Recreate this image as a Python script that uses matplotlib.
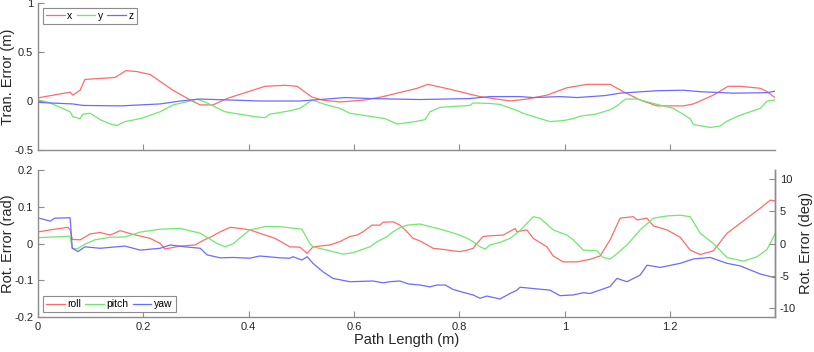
import numpy as np
import matplotlib
matplotlib.use("Agg")
import matplotlib.pyplot as plt

plt.rcParams['font.family'] = ['Liberation Sans', 'DejaVu Sans']

# translation error (m) vs path length (m)
x_s = [0.002, 0.061, 0.066, 0.080, 0.089, 0.146, 0.167, 0.188, 0.213, 0.256, 0.289, 0.308,
       0.332, 0.361, 0.402, 0.431, 0.469, 0.492, 0.520, 0.539, 0.573, 0.621, 0.655, 0.720,
       0.740, 0.782, 0.839, 0.896, 0.928, 0.966, 1.004, 1.042, 1.086, 1.111, 1.143, 1.175,
       1.225, 1.244, 1.282, 1.310, 1.333, 1.371, 1.384, 1.399]
x_err = [0.034, 0.09, 0.06, 0.11, 0.22, 0.24, 0.31, 0.30, 0.27, 0.11, 0.01, -0.04,
         -0.04, 0.03, 0.10, 0.15, 0.16, 0.15, 0.04, 0.01, -0.01, 0.01, 0.045, 0.13,
         0.17, 0.12, 0.045, 0.0, 0.02, 0.06, 0.135, 0.17, 0.17, 0.095, 0.01, -0.05,
         -0.05, -0.03, 0.06, 0.15, 0.15, 0.13, 0.095, 0.035]

y_s = [0.002, 0.023, 0.061, 0.066, 0.080, 0.085, 0.099, 0.118, 0.137, 0.150, 0.165, 0.194,
       0.232, 0.256, 0.289, 0.302, 0.321, 0.355, 0.412, 0.431, 0.440, 0.478, 0.497, 0.507,
       0.520, 0.545, 0.573, 0.592, 0.659, 0.682, 0.716, 0.735, 0.744, 0.763, 0.820, 0.826,
       0.858, 0.877, 0.906, 0.921, 0.953, 0.972, 0.997, 1.016, 1.029, 1.058, 1.086, 1.099,
       1.115, 1.137, 1.168, 1.206, 1.238, 1.244, 1.276, 1.295, 1.308, 1.333, 1.371, 1.384, 1.399]
y_err = [0.01, -0.02, -0.11, -0.16, -0.18, -0.135, -0.125, -0.19, -0.235, -0.25, -0.21, -0.18,
         -0.11, -0.04, 0.0, 0.02, -0.02, -0.11, -0.16, -0.17, -0.135, -0.10, -0.075, -0.04,
         0.01, -0.035, -0.075, -0.125, -0.18, -0.235, -0.21, -0.19, -0.11, -0.065, -0.045, -0.02,
         -0.025, -0.035, -0.09, -0.125, -0.18, -0.21, -0.2, -0.18, -0.155, -0.135, -0.09, -0.05,
         0.02, 0.02, -0.025, -0.075, -0.18, -0.24, -0.27, -0.255, -0.205, -0.145, -0.075, 0.0, 0.01]

z_s = [0.002, 0.066, 0.085, 0.156, 0.232, 0.270, 0.308, 0.365, 0.421, 0.497, 0.535, 0.583,
       0.630, 0.725, 0.820, 0.858, 0.877, 0.915, 0.940, 0.991, 1.023, 1.076, 1.105, 1.175,
       1.225, 1.257, 1.320, 1.384, 1.399]
z_err = [-0.015, -0.03, -0.045, -0.05, -0.03, 0.0, 0.02, 0.01, 0.0, 0.0, 0.015, 0.035,
         0.025, 0.015, 0.025, 0.045, 0.045, 0.045, 0.035, 0.045, 0.035, 0.055, 0.08, 0.105,
         0.11, 0.095, 0.08, 0.085, 0.1]

# rotation error (rad)
roll_s = [0.002, 0.032, 0.057, 0.061, 0.065, 0.080, 0.099, 0.118, 0.137, 0.156, 0.180, 0.213,
          0.232, 0.241, 0.270, 0.298, 0.317, 0.327, 0.346, 0.365, 0.384, 0.402, 0.450, 0.478,
          0.497, 0.511, 0.522, 0.554, 0.573, 0.592, 0.606, 0.617, 0.634, 0.649, 0.655, 0.674,
          0.687, 0.697, 0.712, 0.725, 0.739, 0.750, 0.769, 0.788, 0.801, 0.815, 0.826, 0.833,
          0.845, 0.858, 0.883, 0.906, 0.909, 0.928, 0.940, 0.966, 0.978, 0.997, 1.023, 1.048,
          1.067, 1.086, 1.105, 1.130, 1.137, 1.156, 1.168, 1.194, 1.219, 1.238, 1.257, 1.282,
          1.308, 1.333, 1.371, 1.390, 1.399]
roll = [0.032, 0.039, 0.044, 0.037, 0.011, 0.01, 0.026, 0.03, 0.023, 0.035, 0.025, 0.014,
        0.0, -0.015, -0.007, -0.004, 0.011, 0.017, 0.032, 0.044, 0.041, 0.037, 0.014, -0.009,
        -0.01, -0.027, -0.009, -0.004, 0.005, 0.019, 0.023, 0.032, 0.05, 0.05, 0.058, 0.059,
        0.05, 0.037, 0.014, 0.007, -0.004, -0.013, -0.016, -0.02, -0.022, -0.018, -0.013, 0.0,
        0.019, 0.021, 0.023, 0.041, 0.032, 0.037, 0.014, -0.009, -0.034, -0.05, -0.05, -0.043,
        -0.034, 0.01, 0.069, 0.073, 0.064, 0.069, 0.048, 0.037, 0.017, -0.018, -0.03, -0.02,
        0.028, 0.055, 0.096, 0.118, 0.116]

pitch_s = [0.002, 0.061, 0.065, 0.074, 0.089, 0.108, 0.137, 0.165, 0.194, 0.232, 0.270, 0.308,
           0.340, 0.355, 0.370, 0.402, 0.431, 0.459, 0.488, 0.501, 0.516, 0.522, 0.554, 0.579,
           0.598, 0.630, 0.644, 0.663, 0.674, 0.687, 0.701, 0.725, 0.744, 0.769, 0.796, 0.815,
           0.826, 0.839, 0.849, 0.858, 0.877, 0.896, 0.915, 0.940, 0.953, 0.978, 1.004, 1.016,
           1.035, 1.061, 1.073, 1.086, 1.092, 1.118, 1.143, 1.168, 1.194, 1.219, 1.238, 1.257,
           1.282, 1.308, 1.339, 1.365, 1.384, 1.399]
pitch = [0.016, 0.02, -0.013, -0.015, -0.002, 0.01, 0.017, 0.018, 0.031, 0.039, 0.041, 0.028,
         0.0, -0.009, -0.001, 0.037, 0.046, 0.046, 0.041, 0.039, 0.0, -0.009, -0.02, -0.029,
         -0.025, -0.009, 0.005, 0.019, 0.032, 0.043, 0.05, 0.053, 0.046, 0.037, 0.025, 0.014,
         0.005, -0.009, -0.015, -0.004, 0.003, 0.014, 0.035, 0.073, 0.069, 0.037, 0.023, 0.01,
         -0.018, -0.02, -0.038, -0.042, -0.036, -0.004, 0.037, 0.069, 0.075, 0.077, 0.073, 0.028,
         0.0, -0.038, -0.048, -0.036, -0.016, 0.026]

yaw_s = [0.002, 0.023, 0.032, 0.061, 0.065, 0.076, 0.089, 0.118, 0.165, 0.194, 0.232, 0.251,
         0.279, 0.308, 0.321, 0.346, 0.370, 0.402, 0.421, 0.459, 0.478, 0.484, 0.501, 0.511,
         0.522, 0.541, 0.560, 0.592, 0.636, 0.655, 0.668, 0.687, 0.703, 0.725, 0.744, 0.757,
         0.773, 0.788, 0.807, 0.826, 0.839, 0.852, 0.877, 0.896, 0.909, 0.915, 0.972, 0.991,
         1.016, 1.035, 1.048, 1.086, 1.099, 1.118, 1.143, 1.156, 1.181, 1.219, 1.244, 1.276,
         1.308, 1.333, 1.371, 1.399]
yaw = [0.069, 0.061, 0.069, 0.07, -0.013, -0.022, -0.009, -0.013, -0.007, -0.018, -0.013, -0.004,
       -0.009, -0.013, -0.031, -0.039, -0.038, -0.04, -0.034, -0.039, -0.04, -0.036, -0.045, -0.036,
       -0.054, -0.077, -0.095, -0.104, -0.102, -0.107, -0.104, -0.102, -0.11, -0.113, -0.118, -0.113,
       -0.113, -0.125, -0.133, -0.14, -0.149, -0.143, -0.151, -0.136, -0.127, -0.119, -0.127, -0.142,
       -0.14, -0.134, -0.136, -0.117, -0.095, -0.104, -0.086, -0.059, -0.065, -0.054, -0.042, -0.038,
       -0.054, -0.061, -0.083, -0.093]

red = '#ff6b6b'
green = '#6fe86f'
blue = '#6b6bff'
axcol = '#8c8c8c'
txtcol = '#262626'
xmax = 1.399

fig = plt.figure(figsize=(8.14, 3.52), dpi=100)
ax1 = fig.add_axes([38/814, 1 - 150/352, 737/814, 147/352])
ax2 = fig.add_axes([38/814, 1 - 317/352, 737/814, 147/352])


def style(ax, sides):
    for s in ['top', 'bottom', 'left', 'right']:
        ax.spines[s].set_visible(s in sides)
        ax.spines[s].set_color(axcol)
        ax.spines[s].set_linewidth(1.0)
    ax.tick_params(direction='in', length=4, width=0.8, color=axcol,
                   labelcolor=txtcol, labelsize=8)


def add_legend(ax, loc):
    leg = ax.legend(loc=loc, ncol=3, fontsize=7.5, handlelength=1.8,
                    handletextpad=0.25, columnspacing=0.4, borderpad=0.3,
                    borderaxespad=0.45, fancybox=False, edgecolor=axcol, framealpha=1)
    leg.get_frame().set_linewidth(0.8)


# top panel
ax1.plot(x_s, x_err, color=red, lw=0.9, label='x')
ax1.plot(y_s, y_err, color=green, lw=0.9, label='y')
ax1.plot(z_s, z_err, color=blue, lw=0.9, label='z')
ax1.set_xlim(0, xmax)
ax1.set_ylim(-0.5, 1)
ax1.set_yticks([-0.5, 0, 0.5, 1])
ax1.set_yticklabels(['-0.5', '0', '0.5', '1'])
ax1.set_xticks(np.arange(0, 1.3, 0.2))
ax1.set_xticklabels([])
style(ax1, ['bottom', 'left'])
ax1.set_ylabel('Tran. Error (m)', fontsize=10.5, color=txtcol)
ax1.yaxis.set_label_coords(-0.031, 0.5)
add_legend(ax1, 'upper left')

# bottom panel
ax2.plot(roll_s, roll, color=red, lw=0.9, label='roll')
ax2.plot(pitch_s, pitch, color=green, lw=0.9, label='pitch')
ax2.plot(yaw_s, yaw, color=blue, lw=0.9, label='yaw')
ax2.set_xlim(0, xmax)
ax2.set_ylim(-0.2, 0.2)
ax2.set_yticks([-0.2, -0.1, 0, 0.1, 0.2])
ax2.set_yticklabels(['-0.2', '-0.1', '0', '0.1', '0.2'])
ax2.set_xticks(np.arange(0, 1.3, 0.2))
ax2.set_xticklabels(['0', '0.2', '0.4', '0.6', '0.8', '1', '1.2'])
style(ax2, ['bottom', 'left', 'right'])
ax2.set_ylabel('Rot. Error (rad)', fontsize=10.5, color=txtcol)
ax2.yaxis.set_label_coords(-0.031, 0.5)
ax2.set_xlabel('Path Length (m)', fontsize=10.5, color=txtcol, labelpad=1)
add_legend(ax2, 'lower left')

# right axis in degrees
ax3 = ax2.twinx()
ax3.set_ylim(np.degrees(-0.2), np.degrees(0.2))
ax3.set_yticks([-10, -5, 0, 5, 10])
ax3.set_yticklabels(['-10', '-5', '0', '5', '10'])
style(ax3, ['right'])
ax3.set_ylabel('Rot. Error (deg)', fontsize=10.5, color=txtcol)
ax3.yaxis.set_label_coords(1.032, 0.5)

fig.savefig('out.png', dpi=100)
